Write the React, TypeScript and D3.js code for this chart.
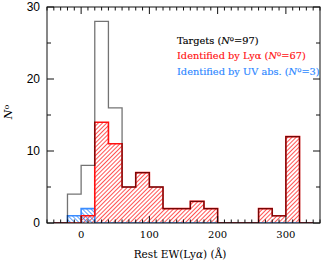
import React from "react";
import * as d3 from "d3";

// Histogram bins: left edges (Rest EW, Å), width 20
const binEdges = [-40, -20, 0, 20, 40, 60, 80, 100, 120, 140, 160, 180, 200, 220, 240, 260, 280, 300, 320];
const binWidth = 20;
const targets =    [0, 4, 8, 28, 16, 5, 7, 5, 2, 2, 3, 2, 0, 0, 0, 2, 1, 12, 0];
const lyaIdent =   [0, 0, 1, 14, 11, 5, 7, 5, 2, 2, 3, 2, 0, 0, 0, 2, 1, 12, 0];
const uvIdent =    [0, 1, 2, 0, 0, 0, 0, 0, 0, 0, 0, 0, 0, 0, 0, 0, 0, 0, 0];

const xMajor = [0, 100, 200, 300];
const yMajor = [0, 10, 20, 30];
const legendRows = [
  { label: "Targets (", n: "97", color: "#000000" },
  { label: "Identified by Ly\u03b1 (", n: "67", color: "#ff1010" },
  { label: "Identified by UV abs. (", n: "3", color: "#2a86ff" },
];

const W = 332, H = 262;
const L = 47, R = 320, T = 7, B = 223;

export default function App() {
  const x = d3.scaleLinear().domain([-50, 350]).range([L, R]);
  const y = d3.scaleLinear().domain([0, 30]).range([B, T]);

  const stepPath = (vals: number[]) => {
    const pts: [number, number][] = [[binEdges[0], 0]];
    vals.forEach((v, i) => {
      pts.push([binEdges[i], v]);
      pts.push([binEdges[i] + binWidth, v]);
    });
    pts.push([binEdges[binEdges.length - 1] + binWidth, 0]);
    return d3.line<[number, number]>().x((d) => x(d[0])).y((d) => y(d[1]))(pts) || "";
  };
  const areaPath = (vals: number[]) =>
    vals
      .map((v, i) =>
        v > 0
          ? `M${x(binEdges[i])},${y(0)}V${y(v)}H${x(binEdges[i] + binWidth)}V${y(0)}Z`
          : ""
      )
      .join("");

  const xMinor = d3.range(-50, 351, 10).filter((v) => v % 100 !== 0);
  const yMinor = [5, 15, 25];
  const serif = "'DejaVu Serif', serif";

  return (
    <svg width={W} height={H} style={{ position: "absolute", left: 0, top: 0, background: "#fff" }}>
      <defs>
        <pattern id="redHatch" patternUnits="userSpaceOnUse" width={3} height={3} patternTransform="rotate(45)">
          <line x1={0} y1={0} x2={0} y2={3} stroke="#ff1a1a" strokeWidth={1.5} />
        </pattern>
        <pattern id="blueHatch" patternUnits="userSpaceOnUse" width={3} height={3} patternTransform="rotate(-45)">
          <line x1={0} y1={0} x2={0} y2={3} stroke="#2a86ff" strokeWidth={1.5} />
        </pattern>
        <clipPath id="plotClip">
          <rect x={L} y={T} width={R - L} height={B - T} />
        </clipPath>
      </defs>
      <rect x={0} y={0} width={W} height={H} fill="#fff" />
      <g clipPath="url(#plotClip)">
        <path d={areaPath(lyaIdent)} fill="url(#redHatch)" />
        <path d={areaPath(uvIdent)} fill="url(#blueHatch)" />
        <path d={stepPath(uvIdent)} fill="none" stroke="#3a8cff" strokeWidth={1.6} />
        <path d={stepPath(lyaIdent)} fill="none" stroke="#ff1010" strokeWidth={1.6} />
        <path d={stepPath(targets)} fill="none" stroke="#000" strokeOpacity={0.55} strokeWidth={1.3} />
      </g>
      {/* frame */}
      <rect x={L} y={T} width={R - L} height={B - T} fill="none" stroke="#111" strokeWidth={1} />
      {/* x ticks */}
      {xMajor.map((v) => (
        <g key={"xm" + v}>
          <line x1={x(v)} x2={x(v)} y1={B} y2={B - 7} stroke="#111" />
          <line x1={x(v)} x2={x(v)} y1={T} y2={T + 7} stroke="#111" />
          <text x={x(v)} y={238} textAnchor="middle" fontFamily={serif} fontSize={10} fill="#000">
            {v}
          </text>
        </g>
      ))}
      {xMinor.map((v) => (
        <g key={"xn" + v}>
          <line x1={x(v)} x2={x(v)} y1={B} y2={B - 3.5} stroke="#111" />
          <line x1={x(v)} x2={x(v)} y1={T} y2={T + 3.5} stroke="#111" />
        </g>
      ))}
      {/* y ticks */}
      {yMajor.map((v) => (
        <g key={"ym" + v}>
          <line x1={L} x2={L + 7} y1={y(v)} y2={y(v)} stroke="#111" />
          <line x1={R} x2={R - 7} y1={y(v)} y2={y(v)} stroke="#111" />
          <text x={40} y={y(v) + 4.3} textAnchor="end" fontFamily="'Liberation Sans', Arial, sans-serif" fontSize={12} fill="#000">
            {v}
          </text>
        </g>
      ))}
      {yMinor.map((v) => (
        <g key={"yn" + v}>
          <line x1={L} x2={L + 4} y1={y(v)} y2={y(v)} stroke="#111" />
          <line x1={R} x2={R - 4} y1={y(v)} y2={y(v)} stroke="#111" />
        </g>
      ))}
      {/* axis titles */}
      <text x={180} y={258} textAnchor="middle" fontFamily={serif} fontSize={10.5} fill="#000">
        Rest EW(Ly<tspan fontStyle="italic">{"\u03b1"}</tspan>) ({"\u00c5"})
      </text>
      <text transform="translate(12,112) rotate(-90)" textAnchor="middle" fontFamily={serif} fontSize={11} fill="#000">
        <tspan fontStyle="italic">N</tspan>
        <tspan fontSize={8} dy={-3}>o</tspan>
      </text>
      {/* legend */}
      {legendRows.map((r, i) => (
        <text key={i} x={177} y={43.5 + i * 15.5} fontFamily={serif} fontSize={9.8} fill={r.color}
          stroke={r.color} strokeWidth={0.15}>
          {r.label}
          <tspan fontStyle="italic">N</tspan>
          <tspan fontSize={7} dy={-3}>o</tspan>
          <tspan dy={3}>={r.n})</tspan>
        </text>
      ))}
    </svg>
  );
}
